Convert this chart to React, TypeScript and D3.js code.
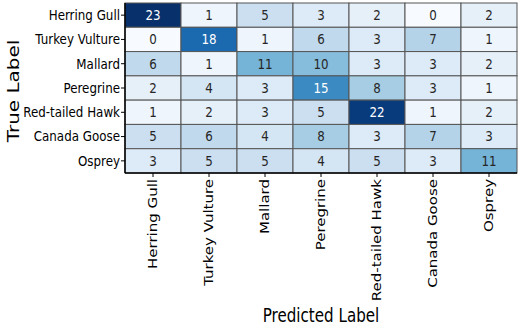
import React from 'react';
import * as d3 from 'd3';

const labels = ['Herring Gull', 'Turkey Vulture', 'Mallard', 'Peregrine', 'Red-tailed Hawk', 'Canada Goose', 'Osprey'];
const herringGull = [23, 1, 5, 3, 2, 0, 2];
const turkeyVulture = [0, 18, 1, 6, 3, 7, 1];
const mallard = [6, 1, 11, 10, 3, 3, 2];
const peregrine = [2, 4, 3, 15, 8, 3, 1];
const redTailedHawk = [1, 2, 3, 5, 22, 1, 2];
const canadaGoose = [5, 6, 4, 8, 3, 7, 3];
const osprey = [3, 5, 5, 4, 5, 3, 11];
const matrix = [herringGull, turkeyVulture, mallard, peregrine, redTailedHawk, canadaGoose, osprey];

const W = 523;
const H = 327;
const left = 125, right = 517, top = 3, bottom = 173;
const SX = 0.82; // the figure is squeezed horizontally
const font = 'DejaVu Sans, Verdana, sans-serif';

const luminance = (c: string) => {
  const rgb = d3.rgb(c);
  const f = (v: number) => {
    v = v / 255;
    return v <= 0.03928 ? v / 12.92 : Math.pow((v + 0.055) / 1.055, 2.4);
  };
  return 0.2126 * f(rgb.r) + 0.7152 * f(rgb.g) + 0.0722 * f(rgb.b);
};

export default function App() {
  const x = d3.scaleBand<string>().domain(labels).range([left, right]);
  const y = d3.scaleBand<string>().domain(labels).range([top, bottom]);
  const vmax = d3.max(matrix.flat()) as number;
  const color = d3.scaleSequential(d3.interpolateBlues).domain([0, vmax]);

  const cells = matrix.flatMap((row, i) =>
    row.map((v, j) => ({ r: labels[i], c: labels[j], v }))
  );

  return (
    <svg width={W} height={H} style={{ position: 'absolute', left: 0, top: 0 }} fontFamily={font}>
      <rect width={W} height={H} fill="#fff" />
      {cells.map((d, k) => {
        const fill = color(d.v);
        const cx = (x(d.c) as number) + x.bandwidth() / 2;
        const cy = (y(d.r) as number) + y.bandwidth() / 2;
        return (
          <g key={k}>
            <rect x={x(d.c)} y={y(d.r)} width={x.bandwidth()} height={y.bandwidth()}
              fill={fill} stroke="#555" strokeWidth={1} />
            <text transform={`translate(${cx},${cy}) scale(${SX},1)`} textAnchor="middle"
              dominantBaseline="central" fontSize={14.5}
              fill={luminance(fill) > 0.408 ? '#262626' : '#fff'}>{d.v}</text>
          </g>
        );
      })}
      {/* spines */}
      <line x1={left} x2={left} y1={top} y2={bottom} stroke="#000" strokeWidth={1.5} />
      <line x1={left} x2={right} y1={bottom} y2={bottom} stroke="#000" strokeWidth={1.5} />
      {/* y ticks */}
      {labels.map((l) => {
        const cy = (y(l) as number) + y.bandwidth() / 2;
        return (
          <g key={'y' + l}>
            <line x1={left - 4} x2={left} y1={cy} y2={cy} stroke="#000" />
            <text transform={`translate(${left - 5},${cy}) scale(${SX},1)`} textAnchor="end"
              dominantBaseline="central" fontSize={14.5} fill="#000">{l}</text>
          </g>
        );
      })}
      {/* x ticks */}
      {labels.map((l) => {
        const cx = (x(l) as number) + x.bandwidth() / 2;
        return (
          <g key={'x' + l}>
            <line x1={cx} x2={cx} y1={bottom} y2={bottom + 4} stroke="#000" />
            <text transform={`translate(${cx},${bottom + 6}) scale(${SX},1) rotate(-90)`} textAnchor="end"
              dominantBaseline="central" fontSize={15} fill="#000">{l}</text>
          </g>
        );
      })}
      <text transform={`translate(13,${(top + bottom) / 2 + 3}) scale(${SX},1) rotate(-90)`} textAnchor="middle"
        dominantBaseline="central" fontSize={20} fill="#000">True Label</text>
      <text transform={`translate(${(left + right) / 2},321.5) scale(${SX * 0.97},1)`} textAnchor="middle"
        fontSize={19} fill="#000">Predicted Label</text>
    </svg>
  );
}
